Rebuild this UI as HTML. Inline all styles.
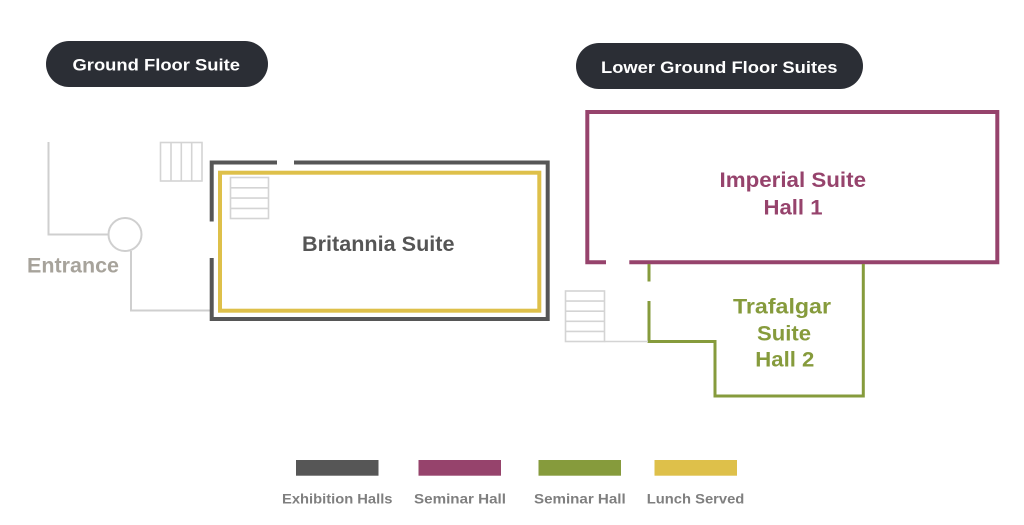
<!DOCTYPE html>
<html>
<head>
<meta charset="utf-8">
<style>
  html,body{margin:0;padding:0;background:#fff;}
  body{width:1024px;height:525px;overflow:hidden;}
  svg{display:block;}
  text{font-family:"Liberation Sans", Arial, sans-serif;font-weight:bold;}
</style>
</head>
<body>
<svg width="1024" height="525" viewBox="0 0 1024 525" xmlns="http://www.w3.org/2000/svg">
  <rect width="1024" height="525" fill="#ffffff"/>

  <!-- Pills -->
  <rect x="46" y="41" width="222" height="46" rx="23" fill="#2b2e35"/>
  <text x="72.5" y="70.5" font-size="17" fill="#ffffff" textLength="167.5" lengthAdjust="spacingAndGlyphs">Ground Floor Suite</text>
  <rect x="576" y="43" width="287" height="46" rx="23" fill="#2b2e35"/>
  <text x="601" y="73" font-size="17" fill="#ffffff" textLength="236.5" lengthAdjust="spacingAndGlyphs">Lower Ground Floor Suites</text>

  <!-- Entrance lines -->
  <g stroke="#cfcfcf" stroke-width="2" fill="none">
    <polyline points="48.5,142 48.5,234.5 108.5,234.5"/>
    <circle cx="125" cy="234.5" r="16.5"/>
    <polyline points="131,251 131,310.5 211,310.5"/>
  </g>
  <text x="27" y="272.5" font-size="21" fill="#a7a39b" textLength="92" lengthAdjust="spacingAndGlyphs">Entrance</text>

  <!-- Top-left stairs (vertical) -->
  <g stroke="#d4d4d4" stroke-width="1.6" fill="none">
    <rect x="160.5" y="142.5" width="41.5" height="38.5"/>
    <line x1="171" y1="142.5" x2="171" y2="181"/>
    <line x1="181.3" y1="142.5" x2="181.3" y2="181"/>
    <line x1="191.7" y1="142.5" x2="191.7" y2="181"/>
  </g>

  <!-- Britannia outer dark wall -->
  <g stroke="#565656" stroke-width="4" fill="none" stroke-linecap="butt">
    <polyline points="277,162.5 211.7,162.5 211.7,221.5"/>
    <polyline points="294,162.5 547.7,162.5 547.7,319 211.7,319 211.7,258"/>
  </g>
  <!-- Britannia yellow -->
  <rect x="220" y="172.7" width="319.3" height="138" fill="none" stroke="#dec04a" stroke-width="4"/>
  <!-- Britannia stairs -->
  <g stroke="#d4d4d4" stroke-width="1.6" fill="none">
    <rect x="230.5" y="177.5" width="38" height="41"/>
    <line x1="230.5" y1="187.8" x2="268.5" y2="187.8"/>
    <line x1="230.5" y1="198.1" x2="268.5" y2="198.1"/>
    <line x1="230.5" y1="208.4" x2="268.5" y2="208.4"/>
  </g>
  <text x="302" y="251" font-size="21" fill="#555555" textLength="152.5" lengthAdjust="spacingAndGlyphs">Britannia Suite</text>

  <!-- Imperial suite -->
  <g stroke="#96436c" stroke-width="4" fill="none">
    <polyline points="606,262.2 587.3,262.2 587.3,112 997.3,112 997.3,262.2 629.3,262.2"/>
  </g>
  <text x="719.5" y="187" font-size="21" fill="#96436c" textLength="146.5" lengthAdjust="spacingAndGlyphs">Imperial Suite</text>
  <text x="763.5" y="214.3" font-size="21" fill="#96436c" textLength="59" lengthAdjust="spacingAndGlyphs">Hall 1</text>

  <!-- Trafalgar suite -->
  <g stroke="#869b3c" stroke-width="3" fill="none">
    <line x1="649" y1="264" x2="649" y2="281.5"/>
    <polyline points="649,301 649,341.5 715,341.5 715,396 863.3,396 863.3,264"/>
  </g>
  <!-- Lower stairs -->
  <g stroke="#d4d4d4" stroke-width="1.6" fill="none">
    <rect x="565.5" y="291" width="39" height="50.5"/>
    <line x1="565.5" y1="301.1" x2="604.5" y2="301.1"/>
    <line x1="565.5" y1="311.2" x2="604.5" y2="311.2"/>
    <line x1="565.5" y1="321.3" x2="604.5" y2="321.3"/>
    <line x1="565.5" y1="331.4" x2="604.5" y2="331.4"/>
    <line x1="604.5" y1="341.5" x2="648" y2="341.5"/>
  </g>
  <text x="733" y="313.3" font-size="21" fill="#869b3c" textLength="98" lengthAdjust="spacingAndGlyphs">Trafalgar</text>
  <text x="757" y="340.7" font-size="21" fill="#869b3c" textLength="54" lengthAdjust="spacingAndGlyphs">Suite</text>
  <text x="755.3" y="366.7" font-size="21" fill="#869b3c" textLength="59" lengthAdjust="spacingAndGlyphs">Hall 2</text>

  <!-- Legend -->
  <rect x="296" y="460" width="82.5" height="15.7" fill="#565656"/>
  <rect x="418.5" y="460" width="82.5" height="15.7" fill="#96436c"/>
  <rect x="538.5" y="460" width="82.5" height="15.7" fill="#869b3c"/>
  <rect x="654.5" y="460" width="82.5" height="15.7" fill="#dec04a"/>
  <g font-size="14" fill="#7f7f7f">
    <text x="282" y="503.3" textLength="110.5" lengthAdjust="spacingAndGlyphs">Exhibition Halls</text>
    <text x="414" y="503.3" textLength="92" lengthAdjust="spacingAndGlyphs">Seminar Hall</text>
    <text x="534" y="503.3" textLength="91.7" lengthAdjust="spacingAndGlyphs">Seminar Hall</text>
    <text x="646.8" y="503.3" textLength="97.5" lengthAdjust="spacingAndGlyphs">Lunch Served</text>
  </g>
</svg>
</body>
</html>
